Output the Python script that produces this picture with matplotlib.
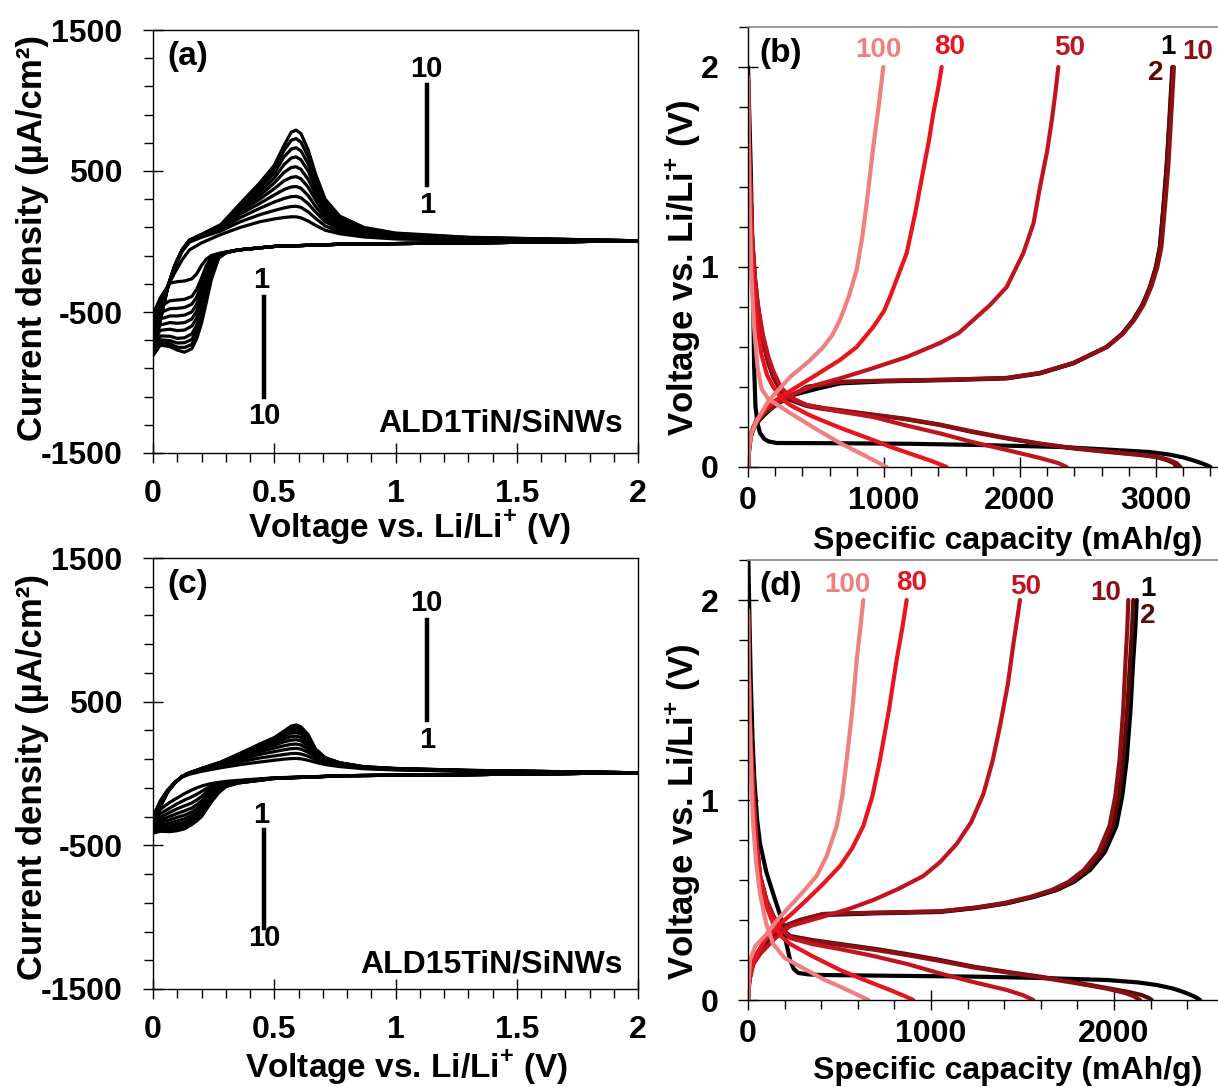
import matplotlib
matplotlib.use("Agg")
import matplotlib.pyplot as plt
from matplotlib.ticker import MultipleLocator, FixedLocator, FuncFormatter

plt.rcParams["font.family"] = ["Liberation Sans", "DejaVu Sans"]
plt.rcParams["font.weight"] = "bold"
plt.rcParams["axes.unicode_minus"] = False
plt.rcParams["mathtext.fontset"] = "custom"
plt.rcParams["mathtext.rm"] = "Liberation Sans:bold"
plt.rcParams["mathtext.bf"] = "Liberation Sans:bold"

W, H = 1218, 1087

# ---------------- CV data (a) ALD1TiN/SiNWs, (c) ALD15TiN/SiNWs ----------------
# anodic sweep 0 -> 2 V, cathodic sweep 2 -> 0 V, currents in uA/cm2, cycles 1..10
CV_V_ANODIC = [0.00, 0.03, 0.06, 0.09, 0.12, 0.15, 0.20, 0.28, 0.36, 0.44, 0.50, 0.54,
               0.57, 0.59, 0.61, 0.64, 0.67, 0.71, 0.77, 0.87, 1.00, 1.30, 2.00]
CV_V_CATHODIC = [2.00, 1.30, 0.80, 0.50, 0.35, 0.30, 0.27, 0.24, 0.22, 0.20, 0.18, 0.16,
                 0.13, 0.10, 0.07, 0.03, 0.00]

A_ANODIC = [
    [-520, -420, -320, -220, -130, -60, -10, 50, 100, 140, 160, 170, 175, 175, 168, 145, 115, 80, 55, 32, 18, 10, 5],
    [-560, -450, -320, -180, -70, -5, 30, 75, 140, 190, 220, 238, 248, 250, 242, 210, 165, 110, 70, 40, 22, 12, 5],
    [-600, -480, -325, -175, -65, 0, 38, 88, 170, 235, 280, 305, 318, 320, 310, 268, 210, 140, 88, 50, 28, 15, 5],
    [-640, -500, -330, -172, -62, 3, 42, 96, 195, 270, 330, 368, 387, 390, 378, 325, 250, 165, 105, 58, 33, 18, 5],
    [-680, -520, -330, -172, -61, 5, 45, 103, 215, 300, 375, 430, 455, 460, 445, 385, 295, 190, 120, 66, 38, 20, 5],
    [-710, -535, -330, -171, -60, 6, 46, 108, 230, 325, 415, 490, 525, 530, 512, 440, 335, 215, 135, 74, 43, 22, 5],
    [-740, -545, -330, -171, -60, 7, 47, 112, 245, 350, 450, 545, 592, 600, 580, 500, 375, 240, 150, 82, 48, 25, 5],
    [-765, -552, -330, -170, -60, 8, 48, 115, 255, 375, 485, 600, 655, 665, 643, 550, 410, 260, 160, 88, 52, 27, 5],
    [-790, -557, -330, -170, -60, 9, 49, 118, 263, 395, 515, 645, 718, 730, 705, 600, 445, 280, 170, 94, 56, 28, 5],
    [-810, -560, -330, -170, -60, 10, 50, 120, 270, 415, 540, 680, 775, 790, 765, 650, 480, 300, 180, 100, 60, 30, 5],
]
A_CATHODIC = [
    [5, -10, -18, -35, -60, -75, -85, -100, -125, -170, -230, -265, -280, -285, -295, -400, -520],
    [5, -10, -18, -35, -60, -76, -88, -115, -170, -260, -340, -390, -410, -415, -420, -460, -560],
    [5, -10, -18, -35, -60, -77, -92, -135, -210, -310, -395, -445, -468, -474, -476, -505, -600],
    [5, -10, -18, -35, -60, -78, -96, -155, -250, -355, -445, -500, -522, -528, -528, -550, -640],
    [5, -10, -18, -35, -60, -78, -100, -175, -290, -400, -495, -550, -575, -580, -575, -592, -680],
    [5, -10, -18, -35, -60, -79, -104, -195, -325, -445, -545, -600, -628, -632, -622, -630, -710],
    [5, -10, -18, -35, -60, -79, -108, -215, -355, -490, -595, -655, -683, -687, -672, -670, -740],
    [5, -10, -18, -35, -60, -80, -112, -235, -385, -520, -630, -695, -718, -720, -703, -697, -765],
    [5, -10, -18, -35, -60, -80, -116, -255, -410, -550, -660, -730, -752, -750, -725, -716, -790],
    [5, -10, -18, -35, -60, -80, -120, -273, -430, -580, -690, -760, -785, -770, -745, -735, -810],
]

C_ANODIC = [
    [-300, -190, -115, -60, -25, -5, 15, 40, 62, 80, 92, 100, 104, 105, 102, 92, 78, 62, 48, 33, 25, 15, 5],
    [-320, -200, -120, -62, -22, 0, 22, 52, 82, 108, 122, 132, 139, 140, 136, 120, 98, 75, 56, 37, 27, 16, 5],
    [-340, -210, -123, -63, -21, 2, 26, 60, 98, 133, 152, 165, 173, 175, 170, 147, 117, 87, 62, 40, 29, 17, 5],
    [-355, -216, -125, -64, -21, 3, 28, 66, 110, 152, 177, 193, 203, 205, 199, 170, 132, 95, 66, 42, 30, 18, 5],
    [-370, -221, -126, -64, -20, 3, 30, 70, 119, 168, 198, 220, 232, 235, 227, 192, 146, 101, 69, 43, 31, 19, 5],
    [-382, -225, -127, -65, -20, 4, 31, 73, 126, 180, 215, 242, 257, 260, 251, 211, 157, 105, 71, 44, 32, 20, 5],
    [-392, -227, -128, -65, -20, 4, 32, 76, 132, 190, 229, 262, 281, 285, 275, 229, 163, 107, 72, 45, 33, 21, 5],
    [-400, -229, -129, -65, -20, 5, 33, 78, 136, 197, 239, 276, 300, 305, 294, 243, 167, 108, 73, 46, 34, 21, 5],
    [-408, -230, -130, -65, -20, 5, 34, 79, 139, 201, 245, 286, 316, 322, 310, 258, 169, 109, 74, 47, 35, 22, 5],
    [-415, -231, -130, -65, -20, 5, 35, 80, 141, 205, 250, 295, 330, 338, 325, 270, 170, 110, 75, 47, 35, 22, 5],
]
C_CATHODIC = [
    [5, -8, -15, -30, -48, -55, -62, -70, -78, -88, -100, -115, -140, -170, -200, -250, -300],
    [5, -8, -15, -31, -52, -62, -72, -88, -105, -125, -145, -162, -185, -210, -240, -280, -320],
    [5, -8, -15, -32, -55, -67, -82, -105, -130, -160, -185, -205, -225, -245, -270, -305, -340],
    [5, -8, -15, -32, -57, -72, -92, -122, -155, -190, -218, -240, -260, -278, -298, -325, -355],
    [5, -8, -15, -33, -59, -76, -100, -138, -175, -215, -245, -268, -290, -305, -322, -343, -370],
    [5, -8, -15, -33, -61, -80, -108, -152, -193, -235, -268, -292, -315, -330, -345, -360, -382],
    [5, -8, -15, -34, -63, -84, -115, -166, -210, -255, -288, -312, -338, -352, -365, -374, -392],
    [5, -8, -15, -34, -64, -87, -122, -178, -225, -272, -305, -330, -358, -370, -380, -385, -400],
    [5, -8, -15, -35, -66, -90, -129, -189, -238, -287, -318, -343, -372, -385, -393, -394, -408],
    [5, -8, -15, -35, -67, -92, -135, -200, -250, -300, -330, -355, -385, -398, -405, -402, -415],
]

# ---------------- galvanostatic data (b), (d): capacity mAh/g, voltage V ----------------
GC_CYCLES = ["1", "2", "10", "50", "80", "100"]
GC_COLORS = ["#000000", "#5a0a0a", "#8c0f14", "#c01420", "#e8141e", "#f08080"]

B_DIS_CAP = [
    [0, 20, 35, 45, 55, 70, 88, 120, 150, 211, 600, 1200, 1700, 2300, 2700, 2950, 3100, 3200, 3280, 3340, 3380, 3400],
    [0, 5, 15, 30, 50, 70, 88, 120, 150, 186, 240, 309, 431, 554, 921, 1150, 1412, 1650, 1902, 2150, 2392, 2650, 2882, 3000, 3078, 3130, 3150],
    [0, 5, 15, 30, 50, 70, 88, 120, 150, 186, 240, 309, 431, 554, 921, 1150, 1412, 1650, 1902, 2150, 2392, 2650, 2882, 3020, 3100, 3155, 3180],
    [0, 5, 15, 30, 50, 70, 110, 150, 186, 240, 309, 431, 650, 921, 1150, 1412, 1650, 1902, 2147, 2280, 2343],
    [0, 5, 15, 30, 50, 70, 100, 140, 186, 250, 309, 450, 554, 700, 900, 1050, 1200, 1350, 1461],
    [0, 5, 12, 25, 45, 70, 100, 150, 309, 500, 676, 850, 1020],
]
B_DIS_V = [
    [2.0, 1.5, 1.0, 0.5, 0.3, 0.22, 0.17, 0.14, 0.128, 0.12, 0.119, 0.116, 0.11, 0.1, 0.085, 0.075, 0.062, 0.048, 0.032, 0.018, 0.007, 0.0],
    [1.95, 1.7, 1.45, 1.15, 0.95, 0.82, 0.73, 0.6, 0.52, 0.45, 0.38, 0.335, 0.305, 0.29, 0.26, 0.24, 0.21, 0.175, 0.143, 0.115, 0.093, 0.075, 0.06, 0.05, 0.035, 0.02, 0.0],
    [1.95, 1.7, 1.45, 1.15, 0.95, 0.82, 0.73, 0.6, 0.52, 0.45, 0.38, 0.34, 0.31, 0.295, 0.262, 0.242, 0.212, 0.178, 0.145, 0.117, 0.095, 0.077, 0.062, 0.05, 0.035, 0.018, 0.0],
    [1.95, 1.7, 1.45, 1.15, 0.95, 0.82, 0.66, 0.55, 0.48, 0.40, 0.35, 0.31, 0.28, 0.25, 0.21, 0.168, 0.125, 0.085, 0.045, 0.02, 0.0],
    [1.95, 1.65, 1.35, 1.05, 0.85, 0.7, 0.56, 0.46, 0.40, 0.34, 0.31, 0.26, 0.23, 0.19, 0.14, 0.1, 0.065, 0.03, 0.0],
    [1.95, 1.6, 1.3, 0.95, 0.7, 0.5, 0.39, 0.34, 0.27, 0.19, 0.12, 0.06, 0.0],
]
B_CHG_CAP = [
    [0, 8, 20, 40, 64, 120, 200, 333, 500, 676, 1000, 1500, 1902, 2147, 2392, 2637, 2750, 2833, 2900, 2956, 3000, 3029, 3055, 3078, 3098, 3113, 3125],
    [0, 8, 20, 40, 64, 120, 186, 250, 309, 431, 676, 921, 1500, 1902, 2147, 2392, 2637, 2750, 2833, 2900, 2956, 3000, 3029, 3055, 3078, 3095, 3110, 3120],
    [0, 8, 20, 40, 64, 120, 186, 250, 309, 431, 676, 921, 1500, 1902, 2147, 2392, 2640, 2755, 2840, 2908, 2965, 3010, 3040, 3066, 3090, 3107, 3122, 3132],
    [0, 8, 25, 64, 150, 309, 500, 676, 900, 1167, 1412, 1550, 1657, 1780, 1902, 2025, 2100, 2147, 2200, 2233, 2260, 2282],
    [0, 8, 25, 64, 150, 309, 500, 676, 799, 921, 1000, 1044, 1100, 1167, 1230, 1289, 1330, 1363, 1400, 1424],
    [0, 8, 25, 64, 150, 230, 309, 450, 554, 620, 676, 740, 799, 840, 873, 921, 960, 995],
]
B_CHG_V = [
    [0.0, 0.08, 0.15, 0.19, 0.22, 0.26, 0.31, 0.36, 0.39, 0.418, 0.428, 0.435, 0.443, 0.468, 0.518, 0.60, 0.665, 0.735, 0.81, 0.90, 1.0, 1.10, 1.3, 1.5, 1.7, 1.88, 2.0],
    [0.0, 0.1, 0.16, 0.2, 0.22, 0.27, 0.3, 0.33, 0.35, 0.4, 0.425, 0.43, 0.437, 0.445, 0.47, 0.52, 0.60, 0.665, 0.735, 0.81, 0.90, 1.0, 1.10, 1.3, 1.5, 1.7, 1.88, 2.0],
    [0.0, 0.1, 0.16, 0.2, 0.22, 0.27, 0.3, 0.33, 0.35, 0.4, 0.425, 0.43, 0.437, 0.445, 0.47, 0.52, 0.60, 0.665, 0.735, 0.81, 0.90, 1.0, 1.10, 1.3, 1.5, 1.7, 1.88, 2.0],
    [0.0, 0.1, 0.17, 0.24, 0.3, 0.36, 0.41, 0.443, 0.49, 0.55, 0.62, 0.67, 0.735, 0.81, 0.90, 1.07, 1.22, 1.40, 1.58, 1.73, 1.87, 2.0],
    [0.0, 0.1, 0.17, 0.23, 0.31, 0.38, 0.46, 0.535, 0.60, 0.70, 0.78, 0.85, 0.95, 1.07, 1.27, 1.485, 1.63, 1.77, 1.9, 2.0],
    [0.0, 0.1, 0.17, 0.23, 0.33, 0.39, 0.45, 0.53, 0.60, 0.66, 0.735, 0.85, 0.985, 1.15, 1.32, 1.60, 1.8, 2.0],
]

D_DIS_CAP = [
    [0, 8, 15, 25, 35, 50, 66, 100, 138, 170, 193, 210, 230, 250, 275, 330, 400, 800, 1231, 1600, 1960, 2130, 2233, 2320, 2379, 2420, 2450, 2470],
    [0, 5, 12, 29, 45, 66, 100, 138, 180, 230, 350, 503, 700, 867, 1050, 1231, 1420, 1596, 1780, 1960, 2080, 2150, 2190, 2206],
    [0, 5, 12, 29, 45, 66, 100, 138, 180, 230, 350, 503, 700, 867, 1050, 1231, 1420, 1596, 1780, 1960, 2060, 2110, 2142],
    [0, 5, 12, 29, 45, 66, 100, 138, 180, 230, 350, 500, 685, 870, 1049, 1230, 1414, 1500, 1559],
    [0, 5, 12, 29, 45, 66, 100, 138, 180, 230, 350, 503, 650, 776, 850, 903],
    [0, 5, 12, 20, 29, 45, 66, 100, 138, 200, 320, 420, 503, 590, 658],
]
D_DIS_V = [
    [2.3, 1.9, 1.6, 1.3, 1.1, 0.9, 0.78, 0.64, 0.53, 0.44, 0.37, 0.28, 0.2, 0.155, 0.135, 0.128, 0.125, 0.121, 0.117, 0.11, 0.10, 0.088, 0.075, 0.058, 0.04, 0.025, 0.012, 0.0],
    [1.95, 1.65, 1.35, 1.03, 0.8, 0.62, 0.5, 0.42, 0.36, 0.32, 0.3, 0.28, 0.255, 0.23, 0.2, 0.167, 0.14, 0.117, 0.09, 0.06, 0.04, 0.025, 0.01, 0.0],
    [1.95, 1.65, 1.35, 1.03, 0.8, 0.62, 0.5, 0.42, 0.36, 0.315, 0.295, 0.275, 0.25, 0.225, 0.195, 0.163, 0.137, 0.113, 0.086, 0.057, 0.035, 0.018, 0.0],
    [1.95, 1.65, 1.35, 1.03, 0.8, 0.62, 0.5, 0.42, 0.36, 0.31, 0.28, 0.255, 0.22, 0.18, 0.133, 0.09, 0.05, 0.025, 0.0],
    [1.95, 1.65, 1.35, 1.0, 0.78, 0.6, 0.47, 0.38, 0.32, 0.28, 0.22, 0.15, 0.095, 0.05, 0.022, 0.0],
    [1.95, 1.6, 1.3, 1.05, 0.87, 0.68, 0.53, 0.38, 0.28, 0.21, 0.15, 0.1, 0.067, 0.03, 0.0],
]
D_CHG_CAP = [
    [0, 2, 20, 48, 90, 138, 200, 284, 412, 685, 1049, 1250, 1414, 1560, 1687, 1780, 1869, 1950, 2013, 2045, 2069, 2090, 2105, 2116, 2124],
    [0, 5, 20, 48, 90, 138, 200, 284, 412, 685, 1049, 1250, 1414, 1555, 1680, 1770, 1855, 1935, 1995, 2027, 2050, 2072, 2088, 2098, 2105],
    [0, 5, 20, 48, 90, 138, 200, 284, 412, 685, 1049, 1240, 1400, 1540, 1660, 1750, 1835, 1915, 1975, 2007, 2030, 2050, 2063, 2072, 2078],
    [0, 8, 30, 66, 150, 230, 412, 550, 685, 820, 958, 1050, 1140, 1220, 1286, 1335, 1377, 1420, 1450, 1470, 1486],
    [0, 8, 25, 48, 100, 175, 250, 320, 410, 503, 570, 630, 680, 721, 770, 812, 845, 867],
    [0, 5, 11, 40, 102, 160, 230, 300, 375, 430, 485, 515, 539, 570, 594, 615, 630],
]
D_CHG_V = [
    [0.0, 0.07, 0.17, 0.23, 0.28, 0.32, 0.36, 0.39, 0.425, 0.433, 0.44, 0.46, 0.483, 0.515, 0.55, 0.59, 0.65, 0.74, 0.87, 1.02, 1.2, 1.45, 1.7, 1.85, 2.0],
    [0.0, 0.08, 0.17, 0.23, 0.29, 0.33, 0.37, 0.40, 0.43, 0.436, 0.443, 0.462, 0.485, 0.515, 0.55, 0.59, 0.65, 0.74, 0.87, 1.02, 1.2, 1.45, 1.7, 1.85, 2.0],
    [0.0, 0.08, 0.17, 0.23, 0.29, 0.33, 0.37, 0.40, 0.43, 0.436, 0.443, 0.462, 0.485, 0.515, 0.55, 0.59, 0.65, 0.74, 0.87, 1.02, 1.2, 1.45, 1.7, 1.85, 2.0],
    [0.0, 0.1, 0.18, 0.23, 0.31, 0.37, 0.417, 0.455, 0.50, 0.555, 0.62, 0.69, 0.78, 0.89, 1.03, 1.19, 1.37, 1.58, 1.78, 1.9, 2.0],
    [0.0, 0.1, 0.18, 0.23, 0.31, 0.38, 0.44, 0.50, 0.58, 0.67, 0.76, 0.87, 1.02, 1.2, 1.45, 1.7, 1.87, 2.0],
    [0.0, 0.12, 0.2, 0.27, 0.33, 0.40, 0.47, 0.54, 0.62, 0.72, 0.87, 1.02, 1.2, 1.45, 1.7, 1.87, 2.0],
]


def box(l, t, r, b):
    return [l / W, 1 - b / H, (r - l) / W, (b - t) / H]


def fmt(v, _):
    return f"{v:g}"


def style_ticks(ax, ypad, xpad):
    ax.xaxis.set_major_formatter(FuncFormatter(fmt))
    ax.yaxis.set_major_formatter(FuncFormatter(fmt))
    ax.tick_params(which="major", direction="inout", length=14, width=1.0,
                   labelsize=23, color="black")
    ax.tick_params(which="minor", direction="out", length=6.5, width=1.0)
    ax.tick_params(axis="y", which="major", pad=ypad)
    ax.tick_params(axis="x", which="major", pad=xpad)
    for lab in ax.get_xticklabels() + ax.get_yticklabels():
        lab.set_fontweight("bold")


def draw_cv(ax, anodic, cathodic):
    for an, ca in zip(anodic, cathodic):
        ax.plot(CV_V_CATHODIC + CV_V_ANODIC, ca + an, color="black", lw=2.3,
                solid_joinstyle="round")
    ax.set_xlim(0, 2)
    ax.set_ylim(-1500, 1500)
    ax.xaxis.set_major_locator(MultipleLocator(0.5))
    ax.xaxis.set_minor_locator(MultipleLocator(0.1))
    ax.yaxis.set_major_locator(FixedLocator([-1500, -500, 500, 1500]))
    ax.yaxis.set_minor_locator(MultipleLocator(200, offset=100))
    for s in ax.spines.values():
        s.set_linewidth(1.0)
    style_ticks(ax, ypad=15, xpad=12)


def draw_gc(ax, dis_cap, dis_v, chg_cap, chg_v, xmax):
    for i in range(len(GC_CYCLES)):
        ax.plot(dis_cap[i], dis_v[i], color=GC_COLORS[i], lw=3.0,
                solid_capstyle="round", solid_joinstyle="round")
        ax.plot(chg_cap[i], chg_v[i], color=GC_COLORS[i], lw=3.0,
                solid_capstyle="round", solid_joinstyle="round")
    ax.set_xlim(0, xmax)
    ax.set_ylim(0, 2.2)
    ax.xaxis.set_major_locator(MultipleLocator(1000))
    ax.xaxis.set_minor_locator(MultipleLocator(200))
    ax.yaxis.set_major_locator(MultipleLocator(1))
    ax.yaxis.set_minor_locator(MultipleLocator(0.2))
    ax.spines["right"].set_visible(False)
    ax.spines["top"].set_color("#888888")
    ax.spines["top"].set_linewidth(1.2)
    ax.spines["left"].set_linewidth(1.0)
    ax.spines["bottom"].set_linewidth(1.0)
    style_ticks(ax, ypad=14, xpad=7)


fig = plt.figure(figsize=(W / 100, H / 100), dpi=100)
fig.patch.set_facecolor("white")

ax_a = fig.add_axes(box(153, 30, 638, 453))
ax_b = fig.add_axes(box(748, 27, 1218, 467))
ax_c = fig.add_axes(box(153, 558, 638, 989))
ax_d = fig.add_axes(box(748, 560, 1218, 1000))

draw_cv(ax_a, A_ANODIC, A_CATHODIC)
draw_cv(ax_c, C_ANODIC, C_CATHODIC)
draw_gc(ax_b, B_DIS_CAP, B_DIS_V, B_CHG_CAP, B_CHG_V, 3456)
draw_gc(ax_d, D_DIS_CAP, D_DIS_V, D_CHG_CAP, D_CHG_V, 2568)

# panel letters and sample names
for ax, letter in ((ax_a, "(a)"), (ax_b, "(b)"), (ax_c, "(c)"), (ax_d, "(d)")):
    x0 = 0.03 if ax in (ax_a, ax_c) else 0.025
    ax.text(x0, 0.975, letter, transform=ax.transAxes, fontsize=24,
            fontweight="bold", va="top", ha="left")
ax_a.text(0.969, 0.05, "ALD1TiN/SiNWs", transform=ax_a.transAxes, fontsize=23,
          fontweight="bold", ha="right", va="baseline")
ax_c.text(0.969, 0.039, "ALD15TiN/SiNWs", transform=ax_c.transAxes, fontsize=23,
          fontweight="bold", ha="right", va="baseline")

# cycle-number markers on the CV panels: (V, line top, line bottom, label "10" y, label "1" y)
CV_MARKS = {
    "a": [(1.129, 400, 1110, 1223, 259), (0.458, -393, -1102, -273, -1237)],
    "c": [(1.129, 372, 1068, 1187, 233), (0.458, -393, -1075, -287, -1145)],
}
for ax, key in ((ax_a, "a"), (ax_c, "c")):
    up, down = CV_MARKS[key]
    ax.plot([up[0], up[0]], [up[1], up[2]], color="black", lw=3.2)
    ax.text(up[0], up[3], "10", ha="center", va="center", fontsize=21, fontweight="bold")
    ax.text(up[0], up[4], "1", ha="center", va="center", fontsize=21, fontweight="bold")
    ax.plot([down[0], down[0]], [down[1], down[2]], color="black", lw=3.2)
    ax.text(down[0] - 0.01, down[3], "1", ha="center", va="center", fontsize=21, fontweight="bold")
    ax.text(down[0], down[4], "10", ha="center", va="center", fontsize=21, fontweight="bold")

# cycle labels on the charge/discharge panels
B_LABEL_POS = [(3088, 2.10), (3000, 1.97), (3309, 2.075), (2368, 2.095), (1485, 2.10), (956, 2.085)]
D_LABEL_POS = [(2186, 2.055), (2186, 1.92), (1956, 2.035), (1519, 2.065), (896, 2.085), (541, 2.075)]
for ax, pos in ((ax_b, B_LABEL_POS), (ax_d, D_LABEL_POS)):
    for (x, y), lab, col in zip(pos, GC_CYCLES, GC_COLORS):
        ax.text(x, y, lab, color=col, ha="center", va="center", fontsize=20,
                fontweight="bold", clip_on=False)


# axis titles
def ftext(x, y, s, size, rot=0):
    fig.text(x / W, 1 - y / H, s, fontsize=size, fontweight="bold",
             ha="center", va="center", rotation=rot)


CV_Y = "Current density (µA/cm²)"
V_LAB = r"Voltage vs. Li/Li$^{+}$ (V)"
CAP_LAB = "Specific capacity (mAh/g)"
ftext(33, 238, CV_Y, 25, 90)
ftext(33, 777, CV_Y, 25, 90)
ftext(410, 528, V_LAB, 24)
ftext(407, 1068, V_LAB, 24)
ftext(683, 268, V_LAB, 25, 90)
ftext(683, 812, V_LAB, 25, 90)
ftext(1008, 541, CAP_LAB, 23)
ftext(1008, 1071, CAP_LAB, 23)

fig.savefig("out.png", dpi=100, facecolor="white")
